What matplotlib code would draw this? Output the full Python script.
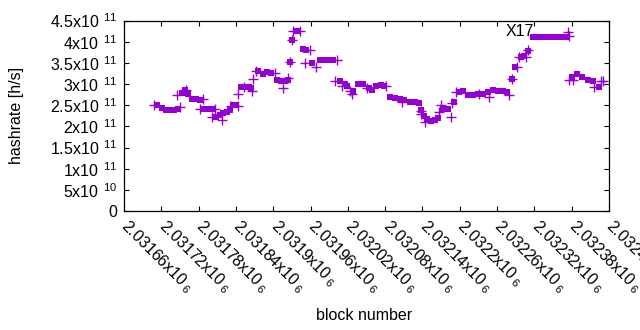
import matplotlib
matplotlib.use("Agg")
import matplotlib.pyplot as plt
from matplotlib.ticker import FixedLocator

plt.rcParams['font.family'] = ['Liberation Sans', 'DejaVu Sans']
plt.rcParams['mathtext.fontset'] = 'custom'
plt.rcParams['mathtext.rm'] = 'Liberation Sans'
plt.rcParams['mathtext.default'] = 'regular'

# square-marker series (block, hashrate in 1e11 h/s)
sq_blocks = [2031713, 2031721, 2031728, 2031734, 2031740, 2031747, 2031753, 2031758, 2031763,
             2031769, 2031776, 2031782, 2031789, 2031795, 2031802, 2031808, 2031814, 2031819,
             2031826, 2031830, 2031835, 2031840, 2031848, 2031855, 2031861, 2031864, 2031876,
             2031884, 2031890, 2031896, 2031906, 2031912, 2031919, 2031924, 2031927, 2031930,
             2031938, 2031948, 2031953, 2031962, 2031975, 2031982, 2031988, 2031996, 2032007,
             2032015, 2032019, 2032028, 2032036, 2032044, 2032054, 2032059, 2032065, 2032073,
             2032078, 2032088, 2032096, 2032104, 2032110, 2032120, 2032128, 2032134, 2032138,
             2032142, 2032147, 2032154, 2032160, 2032165, 2032173, 2032181, 2032191, 2032199,
             2032205, 2032213, 2032221, 2032229, 2032237, 2032245, 2032253, 2032261, 2032270,
             2032276, 2032284, 2032289, 2032298, 2032303, 2032310,
             2032318, 2032323, 2032328, 2032333, 2032338, 2032343, 2032348, 2032353, 2032358,
             2032363, 2032368, 2032371,
             2032380, 2032389, 2032397, 2032406, 2032414, 2032424]
sq_values = [2.512, 2.441, 2.393, 2.393, 2.393, 2.417, 2.796, 2.867, 2.773,
             2.654, 2.654, 2.630, 2.417, 2.417, 2.417, 2.228, 2.275, 2.322,
             2.346, 2.393, 2.512, 2.512, 2.938, 2.938, 2.938, 2.915, 3.318,
             3.246, 3.294, 3.270, 3.104, 3.081, 3.081, 3.104, 3.531, 4.028,
             4.242, 3.815, 3.792, 3.507, 3.566, 3.566, 3.566, 3.566, 3.081,
             3.010, 2.962, 2.844, 3.010, 3.010, 2.915, 2.867, 2.962, 2.986,
             2.962, 2.701, 2.678, 2.654, 2.630, 2.583, 2.571, 2.559, 2.393,
             2.251, 2.180, 2.133, 2.156, 2.204, 2.417, 2.417, 2.583, 2.820,
             2.844, 2.749, 2.749, 2.773, 2.773, 2.820, 2.867, 2.844, 2.844,
             2.820, 3.128, 3.412, 3.649, 3.673, 3.768,
             4.116, 4.116, 4.116, 4.116, 4.116, 4.116, 4.116, 4.116, 4.116,
             4.116, 4.116, 4.116,
             3.175, 3.246, 3.175, 3.104, 3.081, 2.938]

# plus-marker series (block, hashrate in 1e11 h/s)
pl_blocks = [2031708, 2031750, 2031745, 2031760, 2031787, 2031782, 2031806, 2031802, 2031818,
             2031832, 2031843, 2031843, 2031853, 2031868, 2031866, 2031872, 2031903, 2031916,
             2031924, 2031927, 2031930, 2031932, 2031943, 2031951, 2031959, 2031969, 2032003,
             2031999, 2032011, 2032024, 2032027, 2032051, 2032081, 2032107, 2032138, 2032138,
             2032144, 2032167, 2032170, 2032188, 2032186, 2032194, 2032231, 2032247, 2032279,
             2032284, 2032292, 2032295, 2032306, 2032310, 2032374, 2032376, 2032376, 2032382,
             2032416, 2032427, 2032430]
pl_values = [2.512, 2.465, 2.749, 2.867, 2.654, 2.417, 2.417, 2.228, 2.156,
             2.488, 2.488, 2.773, 2.938, 3.128, 2.844, 3.318, 3.270, 2.915,
             3.152, 3.531, 4.028, 4.242, 4.242, 3.507, 3.792, 3.412, 3.578,
             3.081, 2.962, 2.844, 2.773, 2.915, 2.962, 2.583, 2.370, 2.299,
             2.109, 2.346, 2.512, 2.559, 2.228, 2.820, 2.773, 2.701, 2.749,
             3.128, 3.412, 3.649, 3.649, 3.792, 4.218, 4.123, 3.104, 3.104,
             2.938, 3.081, 3.081]

x_ticks = list(range(2031660, 2032441, 60))
y_ticks = [0, 0.5, 1.0, 1.5, 2.0, 2.5, 3.0, 3.5, 4.0, 4.5]
y_tick_labels = ['0', r'5x10$\ ^{10}$', r'1x10$\ ^{11}$', r'1.5x10$\ ^{11}$', r'2x10$\ ^{11}$',
                 r'2.5x10$\ ^{11}$', r'3x10$\ ^{11}$', r'3.5x10$\ ^{11}$', r'4x10$\ ^{11}$',
                 r'4.5x10$\ ^{11}$']
x_tick_labels = [(r'%gx10$\,_{6}$' % (b / 1e6)) for b in x_ticks]

label_text = 'X17'
label_block = 2032273
label_value = 4.24

color = '#9400D3'

fig = plt.figure(figsize=(6.4, 3.3), dpi=100)
ax = fig.add_axes([124/640, 1-211/330, (609-124)/640, (211-20.5)/330])

ax.plot(pl_blocks, pl_values, linestyle='none', marker='+', markersize=7.5,
        markeredgewidth=1.0, color=color)
ax.plot(sq_blocks, sq_values, linestyle='none', marker='s', markersize=5.0,
        markeredgewidth=0, color=color)

ax.set_xlim(2031660, 2032440)
ax.set_ylim(0, 4.5)
ax.xaxis.set_major_locator(FixedLocator(x_ticks))
ax.yaxis.set_major_locator(FixedLocator(y_ticks))
ax.set_yticklabels(y_tick_labels, fontsize=11.5)
ax.set_xticklabels(x_tick_labels, fontsize=11.5, rotation=-45, ha='left', va='center',
                   rotation_mode='anchor')
ax.tick_params(direction='in', length=3.5, width=0.8, top=True, right=True, pad=5,
               colors='black')
ax.tick_params(axis='x', pad=9)
for s in ax.spines.values():
    s.set_linewidth(0.9)

ax.text(label_block, label_value, label_text, fontsize=11.5, ha='left', va='center')

fig.text(17/640, 1-115/330, 'hashrate [h/s]', rotation=90, ha='center', va='center',
         fontsize=11.5)
fig.text(364/640, 1-316/330, 'block number', ha='center', va='center', fontsize=11.5)

fig.savefig('out.png', dpi=100)
